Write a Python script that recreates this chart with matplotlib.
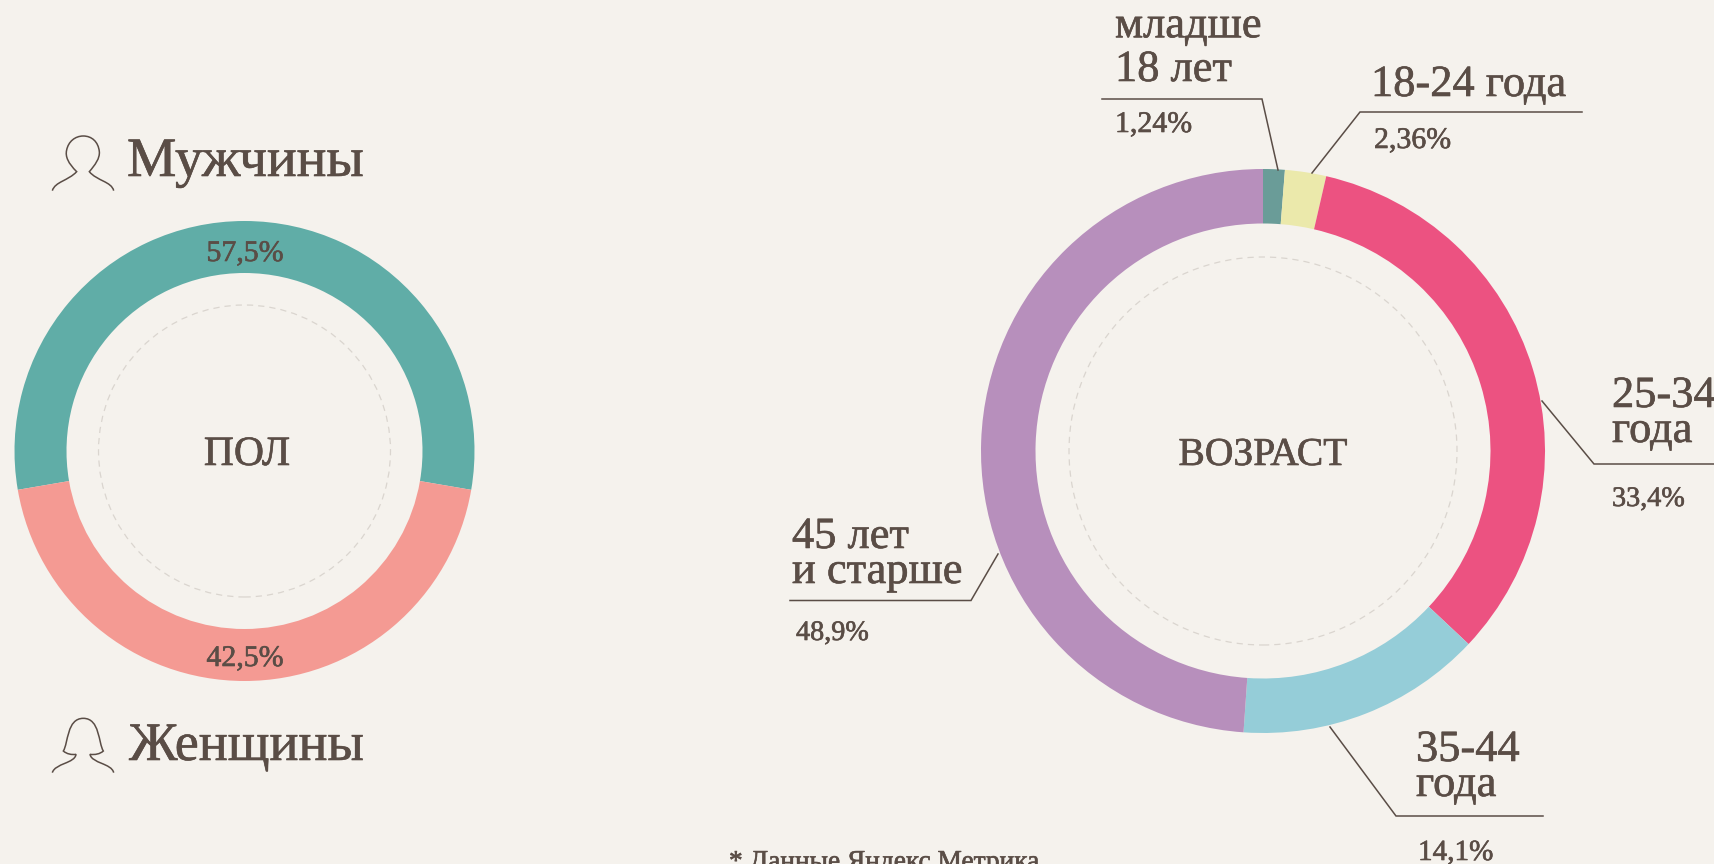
import matplotlib
matplotlib.use("Agg")
import matplotlib.pyplot as plt
import matplotlib.patheffects as pe
from matplotlib.patches import Circle, PathPatch
from matplotlib.path import Path

W, H = 1715, 864
BG = "#F5F2ED"
INK = "#5A4D46"
FONT = "Liberation Serif"

# gender ring: arcs as drawn in the picture differ slightly from the printed shares
gender_names = ["Мужчины", "Женщины"]
gender_labels = ["57,5%", "42,5%"]
gender_arcs = [55.4, 44.6]
gender_colors = ["#60ADA7", "#F49A93"]

age_names = ["младше\n18 лет", "18-24 года", "25-34\nгода", "35-44\nгода", "45 лет\nи старше"]
age_labels = ["1,24%", "2,36%", "33,4%", "14,1%", "48,9%"]
age_values = [1.24, 2.36, 33.4, 14.1, 48.9]
age_colors = ["#6A9C98", "#EBE9AB", "#EC5281", "#95CDD8", "#B78FBC"]

plt.rcParams["font.family"] = [FONT, "DejaVu Serif"]

fig = plt.figure(figsize=(W / 100, H / 100), dpi=100, facecolor=BG)
ax = fig.add_axes([0, 0, 1, 1])

# the original face is an even slab, so thicken the thin strokes a little
heavier = [pe.withStroke(linewidth=0.45, foreground=INK)]


def flip(y):
    return H - y


def donut(values, colors, cx, cy, r_out, r_in, r_dash, start):
    ax.pie(values, colors=colors, center=(cx, flip(cy)), radius=r_out, startangle=start,
           counterclock=False, wedgeprops=dict(width=r_out - r_in, linewidth=0))
    ax.add_patch(Circle((cx, flip(cy)), r_dash, fill=False, ec="#DAD5CF", lw=0.9, ls=(0, (5, 4))))


def label(x, y, s, size, **kw):
    # y is the baseline of the last line
    ax.text(x, flip(y), s, fontsize=size, color=INK, va="baseline", path_effects=heavier, **kw)


def leader(xs, ys):
    ax.plot(xs, [flip(y) for y in ys], color=INK, lw=1.1, solid_joinstyle="miter")


def icon(points, ox, oy):
    verts = [(ox + px / 3, flip(oy + py / 3)) for px, py in points]
    codes = [Path.MOVETO] + [Path.CURVE4] * (len(verts) - 1)
    ax.add_patch(PathPatch(Path(verts, codes), fill=False, ec=INK, lw=1.1))


donut(gender_arcs, gender_colors, 244.5, 451, 230, 178, 146, 90 + gender_arcs[0] * 1.8)
donut(age_values, age_colors, 1263, 451, 282, 227.5, 194, 90)

ax.set_xlim(0, W)
ax.set_ylim(0, H)
ax.set_aspect("equal")
ax.axis("off")

# left ring
label(245, 261, gender_labels[0], 21.5, ha="center")
label(245, 666, gender_labels[1], 21.5, ha="center")
label(247, 465, "ПОЛ", 30, ha="center")
label(127, 176, gender_names[0], 40)
label(129, 760, gender_names[1], 39)

male = [(157, 242), (165, 215), (205, 212), (230, 185),
        (205, 160), (195, 140), (200, 120),
        (205, 95), (225, 78), (250, 78),
        (275, 78), (295, 95), (298, 125),
        (300, 145), (285, 165), (268, 185),
        (290, 212), (335, 215), (341, 242)]
female = [(157, 458), (165, 430), (225, 430), (228, 403),
          (215, 405), (200, 402), (190, 393),
          (205, 370), (200, 295), (250, 295),
          (300, 295), (295, 370), (310, 393),
          (300, 402), (285, 405), (270, 403),
          (275, 430), (335, 430), (341, 458)]
icon(male, 0, 110)
icon(female, 0, 620)

# right ring
label(1263, 465, "ВОЗРАСТ", 28.5, ha="center")

label(1115, 81, age_names[0], 32, linespacing=1.12)
leader([1102, 1262, 1278], [99, 99, 170])
label(1115, 132, age_labels[0], 21.5)

label(1371, 96, age_names[1], 32)
leader([1582, 1360, 1312], [112, 112, 173])
label(1374, 148, age_labels[1], 21.5)

label(1612, 442, age_names[2], 32, linespacing=0.84)
leader([1542, 1594, 1715], [401, 464, 464])
label(1612, 506, age_labels[2], 20.3)

label(1416, 796, age_names[3], 32, linespacing=0.84)
leader([1330, 1396, 1543], [727, 816, 816])
label(1418, 860, age_labels[3], 21)

label(792, 583, age_names[4], 32, linespacing=0.84)
leader([998, 971, 790], [554, 600.5, 600.5])
label(796, 640, age_labels[4], 20.3)

label(729, 869, "* Данные Яндекс.Метрика", 19.7)

fig.savefig("out.png", dpi=100, facecolor=BG)
